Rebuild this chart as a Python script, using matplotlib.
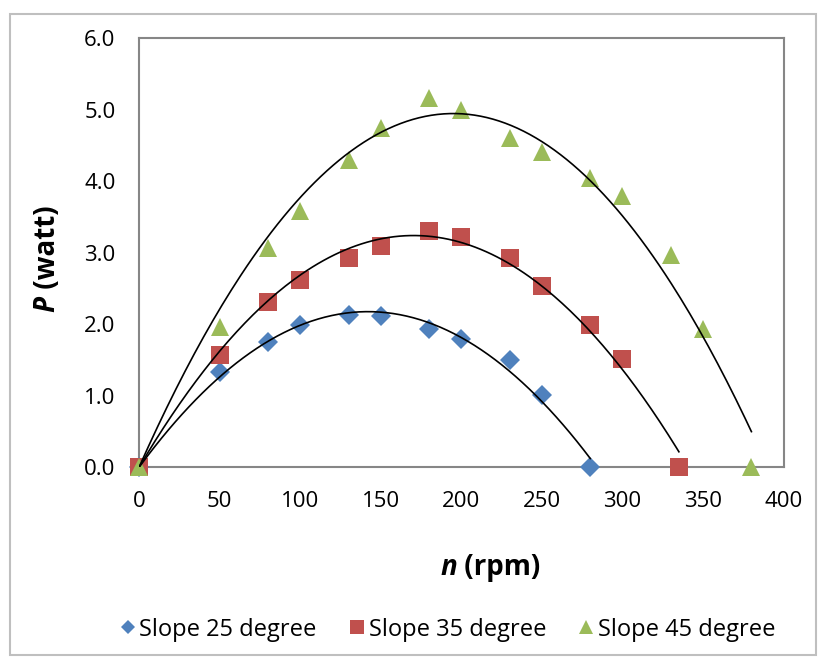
import numpy as np
import matplotlib.pyplot as plt
from matplotlib.patches import Rectangle

# Datos
n25 = [0, 50, 80, 100, 130, 150, 180, 200, 230, 250, 280]
p25 = [0, 1.33, 1.75, 1.99, 2.13, 2.12, 1.94, 1.80, 1.50, 1.01, 0]
n35 = [0, 50, 80, 100, 130, 150, 180, 200, 230, 250, 280, 300, 335]
p35 = [0, 1.57, 2.31, 2.62, 2.92, 3.10, 3.31, 3.22, 2.92, 2.53, 1.99, 1.51, 0]
n45 = [0, 50, 80, 100, 130, 150, 180, 200, 230, 250, 280, 300, 330, 350, 380]
p45 = [0, 1.96, 3.06, 3.59, 4.29, 4.74, 5.16, 4.99, 4.60, 4.41, 4.04, 3.80, 2.97, 1.94, 0]

labels = ["Slope 25 degree", "Slope 35 degree", "Slope 45 degree"]
colors = ["#4F81BD", "#C0504D", "#9BBB59"]
markers = ["D", "s", "^"]
sizes = [10, 13, 13]

xticks = [0, 50, 100, 150, 200, 250, 300, 350, 400]
yticks = [0, 1, 2, 3, 4, 5, 6]

FONT = "Open Sans"
plt.rcParams['font.family'] = [FONT, 'DejaVu Sans']

fig = plt.figure(figsize=(8.18, 6.59), dpi=100)
ax = fig.add_axes([0.170, 0.291, 0.788, 0.651])

# Borde del área del gráfico
fig.patches.append(Rectangle((0.012, 0.006), 0.985, 0.972, transform=fig.transFigure,
                             fill=False, edgecolor="#BFBFBF", lw=1.5))


# Línea de tendencia polinómica de orden 2 con intersección en cero
def tendencia(n, p):
    n = np.array(n, dtype=float)
    p = np.array(p, dtype=float)
    A = np.column_stack([n, n**2])
    coef, *_ = np.linalg.lstsq(A, p, rcond=None)
    xs = np.linspace(0, n.max(), 200)
    return xs, coef[0]*xs + coef[1]*xs**2


series = [(n25, p25), (n35, p35), (n45, p45)]
for (n, p), lab, c, m, s in zip(series, labels, colors, markers, sizes):
    ax.plot(n, p, linestyle='none', marker=m, ms=s, color=c, label=lab,
            markeredgewidth=0, zorder=3, clip_on=False)
for n, p in series:
    xs, ys = tendencia(n, p)
    ax.plot(xs, ys, color='black', lw=1.2, zorder=4)

ax.set_xlim(0, 400)
ax.set_ylim(0, 6)
ax.set_xticks(xticks)
ax.set_yticks(yticks)
ax.set_yticklabels(["%.1f" % v for v in yticks])
ax.tick_params(length=0, labelsize=16, pad=17)
for sp in ax.spines.values():
    sp.set_color("#868686")
    sp.set_linewidth(1.5)

# Títulos de los ejes (letra en cursiva + unidades)
fig.text(0.559, 0.1275, "n", fontsize=20, fontweight='bold', style='italic',
         ha='right', va='baseline')
fig.text(0.559, 0.1275, " (rpm)", fontsize=20, fontweight='bold', ha='left', va='baseline')
fig.text(0.0575, 0.551, "P", fontsize=20, fontweight='bold', style='italic',
         rotation=90, va='top', ha='center')
fig.text(0.0575, 0.551, " (watt)", fontsize=20, fontweight='bold', rotation=90,
         va='bottom', ha='center')

ax.legend(loc='upper center', bbox_to_anchor=(0.545, 0.095), bbox_transform=fig.transFigure,
          ncol=3, frameon=False, fontsize=17, handletextpad=0.0, columnspacing=1.2,
          markerscale=0.75, handlelength=1.0)

fig.savefig("out.png", dpi=100)
